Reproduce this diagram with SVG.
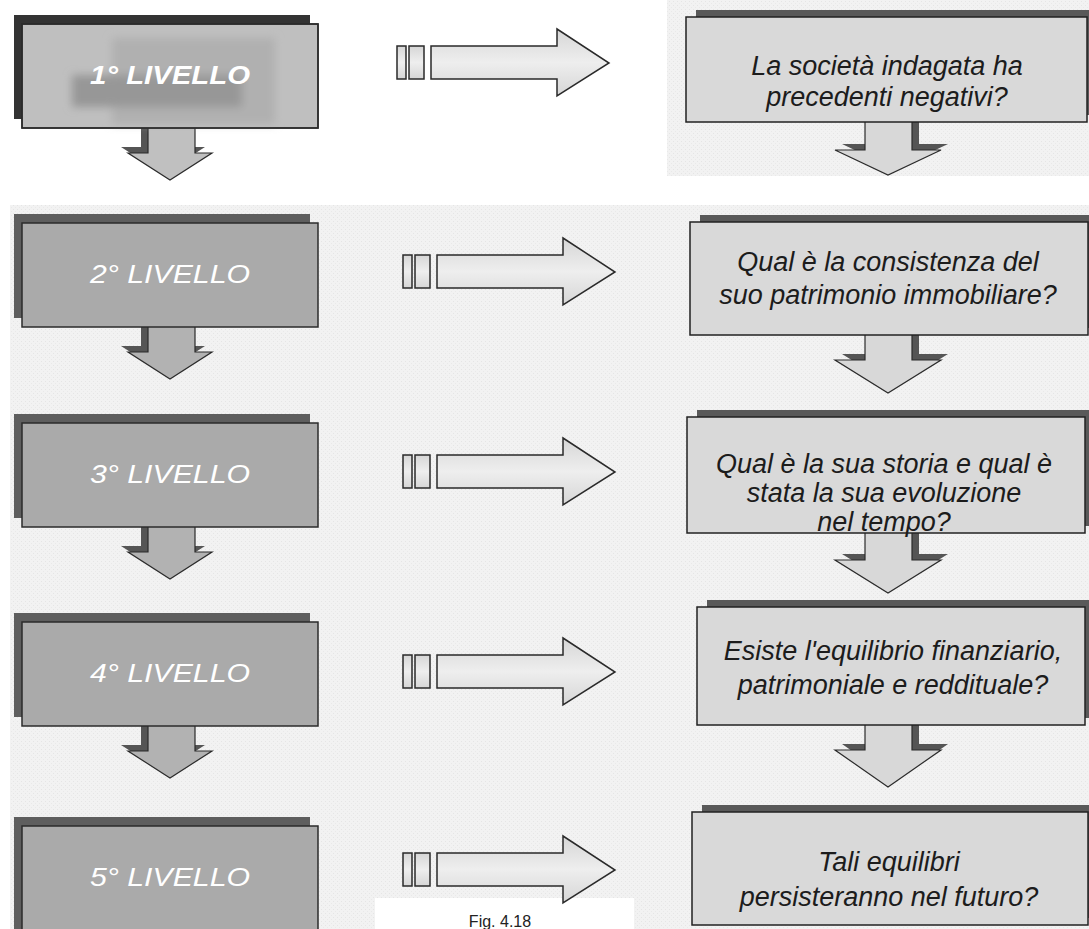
<svg xmlns="http://www.w3.org/2000/svg" width="1089" height="929" viewBox="0 0 1089 929">
  <defs>
    <style>
      .lvl { fill: #aaaaaa; stroke: #2b2b2b; stroke-width: 1.5; }
      .lvl-sh { fill: #5e5e5e; }
      .lvl-t { font-family: "Liberation Sans", Arial, sans-serif; font-style: italic; font-size: 26px; fill: #ffffff; text-anchor: middle; }
      .q { fill: #d9d9d9; stroke: #222222; stroke-width: 1.5; }
      .q-sh { fill: #595959; }
      .q-t { font-family: "Liberation Sans", Arial, sans-serif; font-style: italic; font-size: 27px; fill: #1c1c1c; text-anchor: middle; }
      .dn { fill: #b2b2b2; stroke: #2b2b2b; stroke-width: 1.2; }
      .dn-sh { fill: #555555; }
      .rdn { fill: #d8d8d8; stroke: #2b2b2b; stroke-width: 1.2; }
      .ha { fill: url(#hbar); stroke: #2a2a2a; stroke-width: 1.5; }
      .cap { font-family: "Liberation Sans", Arial, sans-serif; font-size: 16px; fill: #222222; text-anchor: middle; }
    </style>
    <pattern id="grain" width="4" height="4" patternUnits="userSpaceOnUse">
      <rect width="4" height="4" fill="#f2f2f2"/>
      <rect x="1" y="1" width="1" height="1" fill="#e5e5e5"/>
      <rect x="3" y="3" width="1" height="1" fill="#e9e9e9"/>
    </pattern>
    <linearGradient id="hbar" x1="0" y1="0" x2="0" y2="1">
      <stop offset="0" stop-color="#d6d6d6"/>
      <stop offset="0.5" stop-color="#eeeeee"/>
      <stop offset="1" stop-color="#d6d6d6"/>
    </linearGradient>
    <filter id="soft" x="-10%" y="-20%" width="120%" height="140%">
      <feGaussianBlur stdDeviation="4"/>
    </filter>
    <!-- horizontal block arrow, centred on y = 0 -->
    <g id="harrow">
      <rect class="ha" x="403" y="-17" width="9" height="33"/>
      <rect class="ha" x="415" y="-17" width="15" height="33"/>
      <path class="ha" d="M437,-17 H563 V-34 L615,0 L563,33 V16 H437 Z"/>
    </g>
    <!-- left-column down arrow, relative to box top -->
    <path id="dnL" d="M148,100 V129 H128 L170,156 L212,129 H195 V100 Z"/>
  </defs>

  <!-- page -->
  <rect width="1089" height="929" fill="#ffffff"/>
  <rect x="10" y="205" width="1079" height="724" fill="url(#grain)"/>
  <rect x="667" y="0" width="422" height="176" fill="url(#grain)"/>
  <rect x="375" y="898" width="259" height="31" fill="#ffffff"/>

  <!-- connectors -->
  <g id="connectors">
    <use href="#harrow" transform="translate(-6,63)"/>
    <use href="#harrow" transform="translate(0,272)"/>
    <use href="#harrow" transform="translate(0,472)"/>
    <use href="#harrow" transform="translate(0,672)"/>
    <use href="#harrow" transform="translate(0,870)"/>

    <!-- left column: level to level -->
    <use href="#dnL" class="dn-sh" transform="translate(-7,18)"/>
    <use href="#dnL" class="dn" transform="translate(0,24)" style="fill:#c0c0c0"/>
    <use href="#dnL" class="dn-sh" transform="translate(-7,217)"/>
    <use href="#dnL" class="dn" transform="translate(0,223)"/>
    <use href="#dnL" class="dn-sh" transform="translate(-7,417)"/>
    <use href="#dnL" class="dn" transform="translate(0,423)"/>
    <use href="#dnL" class="dn-sh" transform="translate(-7,616)"/>
    <use href="#dnL" class="dn" transform="translate(0,622)"/>

    <!-- right column: question to question -->
    <path class="dn-sh" d="M872,106 V144 H842 L895,169 L948,144 H919 V106 Z"/>
    <path class="rdn" d="M865,112 V150 H835 L888,175 L941,150 H912 V112 Z"/>
    <path class="dn-sh" d="M872,319 V354 H842 L895,387 L948,354 H919 V319 Z"/>
    <path class="rdn" d="M865,325 V360 H835 L888,393 L941,360 H912 V325 Z"/>
    <path class="dn-sh" d="M872,517 V554 H842 L895,587 L948,554 H919 V517 Z"/>
    <path class="rdn" d="M865,523 V560 H835 L888,593 L941,560 H912 V523 Z"/>
    <path class="dn-sh" d="M872,709 V744 H842 L895,781 L948,744 H919 V709 Z"/>
    <path class="rdn" d="M865,715 V750 H835 L888,787 L941,750 H912 V715 Z"/>
  </g>

  <!-- levels -->
  <g id="level1">
    <rect class="lvl-sh" x="14" y="15" width="296" height="104" style="fill:#333333"/>
    <rect class="lvl" x="22" y="24" width="296" height="104" style="fill:#bfbfbf"/>
    <g filter="url(#soft)">
      <rect x="112" y="38" width="163" height="86" fill="#b0b0b0"/>
      <rect x="72" y="75" width="170" height="32" fill="#979797"/>
    </g>
    <rect x="22" y="24" width="296" height="104" fill="none" stroke="#2b2b2b" stroke-width="1.5"/>
    <text class="lvl-t" x="170" y="84" font-weight="bold" textLength="160" lengthAdjust="spacingAndGlyphs">1° LIVELLO</text>
  </g>
  <g id="level2">
    <rect class="lvl-sh" x="14" y="214" width="296" height="104"/>
    <rect class="lvl" x="22" y="223" width="296" height="104"/>
    <text class="lvl-t" x="170" y="283" textLength="160" lengthAdjust="spacingAndGlyphs">2° LIVELLO</text>
  </g>
  <g id="level3">
    <rect class="lvl-sh" x="14" y="414" width="296" height="104"/>
    <rect class="lvl" x="22" y="423" width="296" height="104"/>
    <text class="lvl-t" x="170" y="483" textLength="160" lengthAdjust="spacingAndGlyphs">3° LIVELLO</text>
  </g>
  <g id="level4">
    <rect class="lvl-sh" x="14" y="613" width="296" height="104"/>
    <rect class="lvl" x="22" y="622" width="296" height="104"/>
    <text class="lvl-t" x="170" y="682" textLength="160" lengthAdjust="spacingAndGlyphs">4° LIVELLO</text>
  </g>
  <g id="level5">
    <rect class="lvl-sh" x="14" y="817" width="296" height="120"/>
    <rect class="lvl" x="22" y="826" width="296" height="120"/>
    <text class="lvl-t" x="170" y="886" textLength="160" lengthAdjust="spacingAndGlyphs">5° LIVELLO</text>
  </g>

  <!-- questions -->
  <g id="q1">
    <rect class="q-sh" x="696" y="10" width="400" height="105"/>
    <rect class="q" x="686" y="17" width="401" height="105"/>
    <text class="q-t" x="887" y="75">La società indagata ha</text>
    <text class="q-t" x="887" y="106">precedenti negativi?</text>
  </g>
  <g id="q2">
    <rect class="q-sh" x="700" y="215" width="400" height="113"/>
    <rect class="q" x="690" y="222" width="398" height="113"/>
    <text class="q-t" x="888" y="271">Qual è la consistenza del</text>
    <text class="q-t" x="888" y="304">suo patrimonio immobiliare?</text>
  </g>
  <g id="q3">
    <rect class="q-sh" x="697" y="410" width="400" height="116"/>
    <rect class="q" x="687" y="417" width="398" height="116"/>
    <text class="q-t" x="884" y="473">Qual è la sua storia e qual è</text>
    <text class="q-t" x="884" y="502">stata la sua evoluzione</text>
    <text class="q-t" x="884" y="531">nel tempo?</text>
  </g>
  <g id="q4">
    <rect class="q-sh" x="707" y="600" width="390" height="118"/>
    <rect class="q" x="697" y="607" width="388" height="118"/>
    <text class="q-t" x="893" y="660">Esiste l'equilibrio finanziario,</text>
    <text class="q-t" x="893" y="694">patrimoniale e reddituale?</text>
  </g>
  <g id="q5">
    <rect class="q-sh" x="702" y="805" width="400" height="113"/>
    <rect class="q" x="692" y="812" width="396" height="113"/>
    <text class="q-t" x="889" y="871">Tali equilibri</text>
    <text class="q-t" x="889" y="906">persisteranno nel futuro?</text>
  </g>

  <text class="cap" x="500" y="927">Fig. 4.18</text>
</svg>
